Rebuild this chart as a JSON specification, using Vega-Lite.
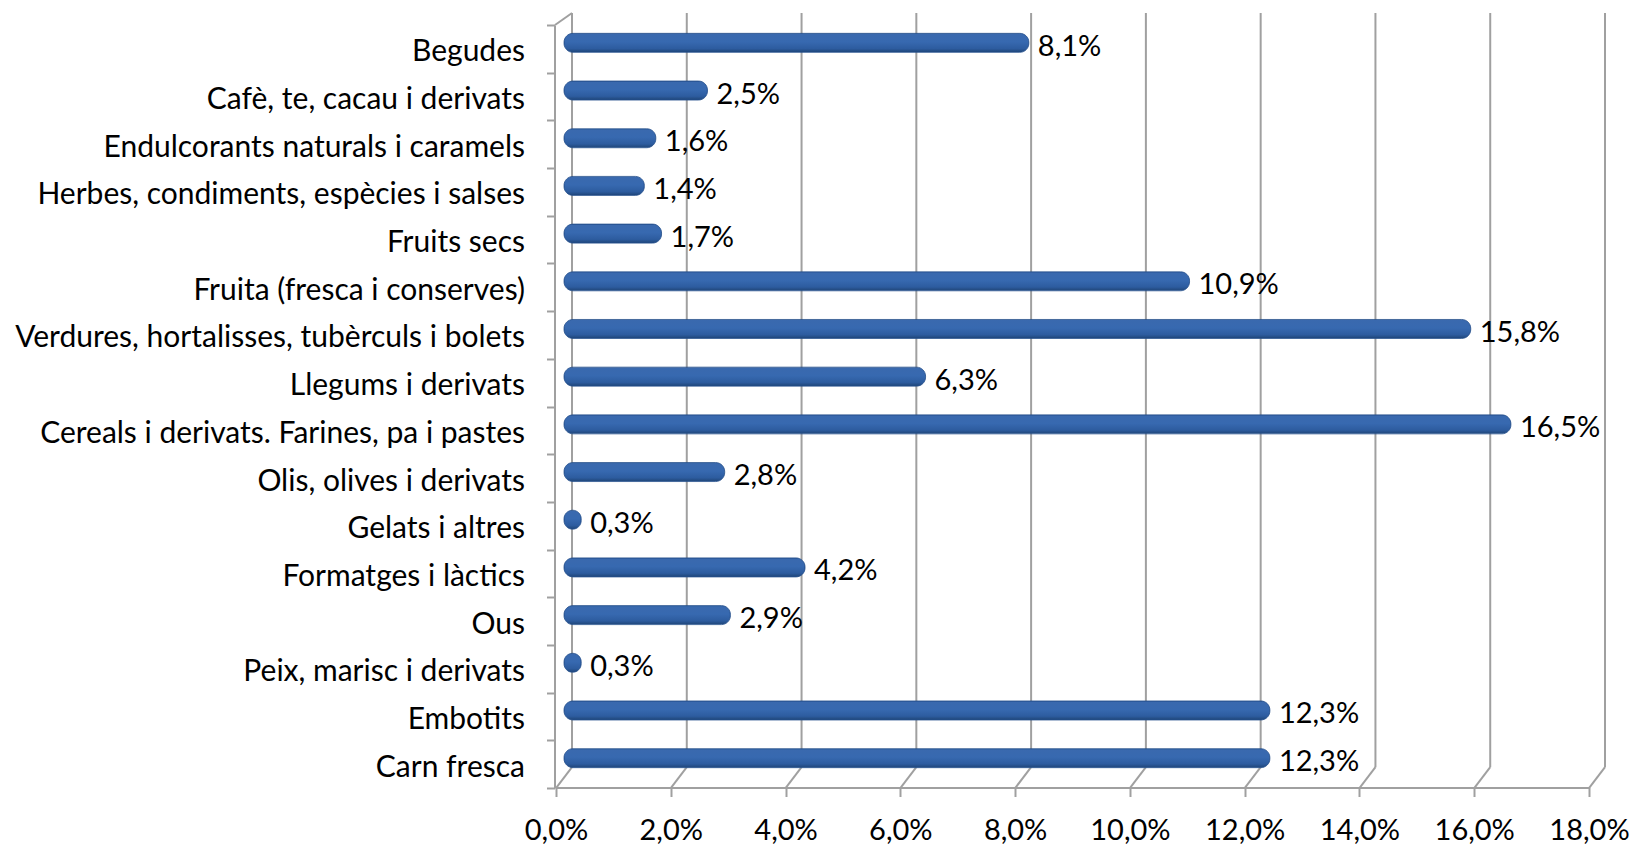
{
  "$schema": "https://vega.github.io/schema/vega-lite/v6.json",
  "width": 1033,
  "height": 763,
  "autosize": {"type": "none"},
  "padding": {"left": 564, "top": 19, "right": 33, "bottom": 63},
  "background": "white",
  "config": {
    "locale": {"number": {"decimal": ",", "thousands": ".", "grouping": [3], "currency": ["", " €"]}},
    "view": {"stroke": null},
    "font": "Lato"
  },
  "data": {
    "values": [
      {"cat": "Begudes", "v": 0.081},
      {"cat": "Cafè, te, cacau i derivats", "v": 0.025},
      {"cat": "Endulcorants naturals i caramels", "v": 0.016},
      {"cat": "Herbes, condiments, espècies i salses", "v": 0.014},
      {"cat": "Fruits secs\u00a0", "v": 0.017},
      {"cat": "Fruita (fresca i conserves)", "v": 0.109},
      {"cat": "Verdures, hortalisses, tubèrculs i bolets", "v": 0.158},
      {"cat": "Llegums i derivats", "v": 0.063},
      {"cat": "Cereals i derivats. Farines, pa i pastes", "v": 0.165},
      {"cat": "Olis, olives i derivats", "v": 0.028},
      {"cat": "Gelats i altres", "v": 0.003},
      {"cat": "Formatges i làctics", "v": 0.042},
      {"cat": "Ous", "v": 0.029},
      {"cat": "Peix, marisc i derivats", "v": 0.003},
      {"cat": "Embotits", "v": 0.123},
      {"cat": "Carn fresca", "v": 0.123}
    ]
  },
  "encoding": {
    "y": {
      "field": "cat", "type": "nominal",
      "scale": {"domain": ["Begudes", "Cafè, te, cacau i derivats", "Endulcorants naturals i caramels", "Herbes, condiments, espècies i salses", "Fruits secs\u00a0", "Fruita (fresca i conserves)", "Verdures, hortalisses, tubèrculs i bolets", "Llegums i derivats", "Cereals i derivats. Farines, pa i pastes", "Olis, olives i derivats", "Gelats i altres", "Formatges i làctics", "Ous", "Peix, marisc i derivats", "Embotits", "Carn fresca"]},
      "axis": {
        "title": null, "translate": 6.5, "offset": 15.5, "tickBand": "extent",
        "domainColor": "#a0a0a0", "domainWidth": 2,
        "tickColor": "#a0a0a0", "tickSize": 8, "tickWidth": 2,
        "labelFontSize": 30, "labelColor": "black", "labelPadding": 22, "labelLimit": 0, "labelOffset": 3
      }
    }
  },
  "layer": [
    {
      "data": {"values": [{"g": 0}, {"g": 0.02}, {"g": 0.04}, {"g": 0.06}, {"g": 0.08}, {"g": 0.10}, {"g": 0.12}, {"g": 0.14}, {"g": 0.16}, {"g": 0.18}]},
      "mark": {"type": "rule", "color": "#a0a0a0", "strokeWidth": 2, "xOffset": 8, "yOffset": -29.85, "y2Offset": 9},
      "encoding": {
        "x": {"field": "g", "type": "quantitative", "scale": {"domain": [0, 0.18], "nice": false}},
        "y": {"datum": "Begudes"},
        "y2": {"datum": "Carn fresca"}
      }
    },
    {
      "data": {"values": [{"g": 0}, {"g": 0.02}, {"g": 0.04}, {"g": 0.06}, {"g": 0.08}, {"g": 0.10}, {"g": 0.12}, {"g": 0.14}, {"g": 0.16}, {"g": 0.18}]},
      "mark": {"type": "rule", "color": "#a0a0a0", "strokeWidth": 2, "xOffset": -8, "x2Offset": 8, "yOffset": 30, "y2Offset": 9},
      "encoding": {
        "x": {"field": "g", "type": "quantitative"},
        "x2": {"field": "g"},
        "y": {"datum": "Carn fresca"},
        "y2": {"datum": "Carn fresca"}
      }
    },
    {
      "data": {"values": [{"g": 0}]},
      "mark": {"type": "rule", "color": "#a0a0a0", "strokeWidth": 2, "xOffset": -9, "x2Offset": 8, "yOffset": -17.85, "y2Offset": -29.85},
      "encoding": {
        "x": {"field": "g", "type": "quantitative"},
        "x2": {"field": "g"},
        "y": {"datum": "Begudes"},
        "y2": {"datum": "Begudes"}
      }
    },
    {
      "mark": {
        "type": "bar",
        "size": 19,
        "cornerRadius": 9,
        "stroke": "#244f8c",
        "strokeWidth": 0.8,
        "color": {
          "gradient": "linear", "x1": 0, "y1": 0, "x2": 0, "y2": 1,
          "stops": [
            {"offset": 0, "color": "#3a69ae"},
            {"offset": 0.45, "color": "#3769b0"},
            {"offset": 0.8, "color": "#2d5c9f"},
            {"offset": 1, "color": "#1f4577"}
          ]
        }
      },
      "encoding": {
        "x": {
          "field": "v", "type": "quantitative",
          "scale": {"domain": [0, 0.18], "nice": false},
          "axis": {
            "title": null, "values": [0, 0.02, 0.04, 0.06, 0.08, 0.10, 0.12, 0.14, 0.16, 0.18],
            "format": ".1%", "grid": false, "translate": -7.5, "offset": 13.5,
            "domainColor": "#a0a0a0", "domainWidth": 2,
            "tickColor": "#a0a0a0", "tickSize": 9, "tickWidth": 2, "labelFlush": false,
            "labelFontSize": 29, "labelColor": "black", "labelPadding": 20
          }
        }
      }
    },
    {
      "mark": {"type": "text", "align": "left", "baseline": "middle", "dx": 9, "dy": 4, "fontSize": 29, "color": "black"},
      "encoding": {
        "x": {"field": "v", "type": "quantitative"},
        "text": {"field": "v", "type": "quantitative", "format": ".1%"}
      }
    }
  ]
}
